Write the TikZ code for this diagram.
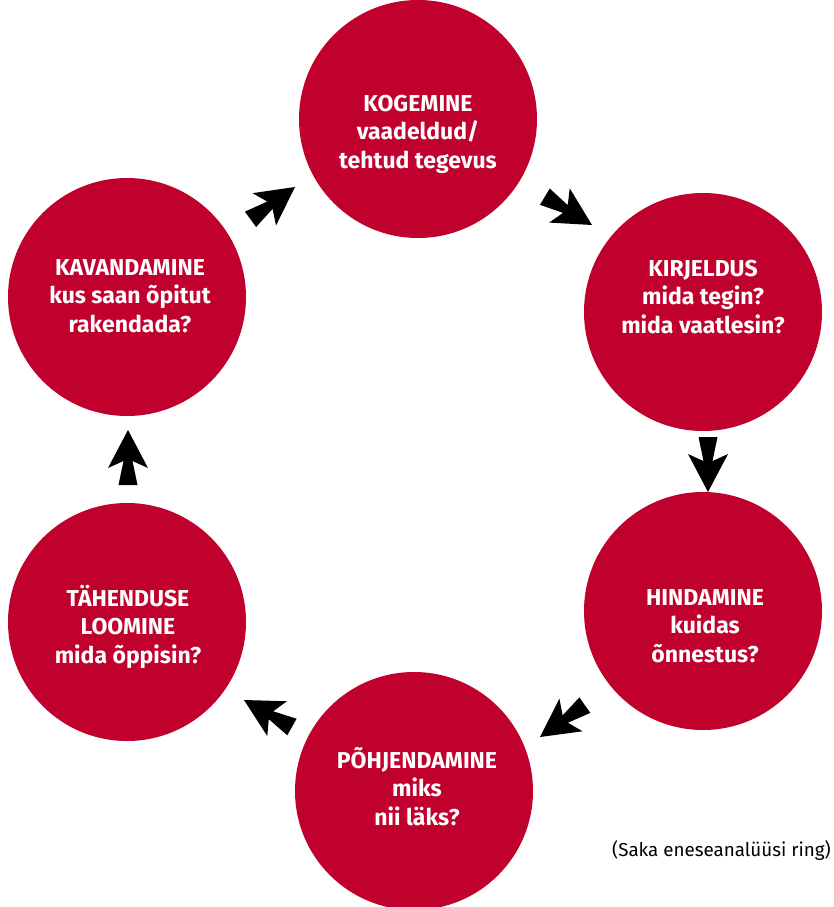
\documentclass[tikz,border=0pt]{standalone}
\usepackage{fontspec}
\setmainfont{Fira Sans}
\definecolor{ringred}{RGB}{192,0,45}
\tikzset{
  circ/.style={circle, fill=ringred, minimum size=238pt, inner sep=0pt},
  lbl/.style={text=white, font=\fontsize{23}{28.5}\selectfont\bfseries, align=center, inner sep=0pt, anchor=base},
  fatarrow/.pic={\fill[black] (0,0) -- (-38,20) -- (-31,4.5) -- (-55,9.5) -- (-55,-9.5) -- (-31,-4.5) -- (-38,-20) -- cycle;}
}
\begin{document}
\begin{tikzpicture}[x=1pt,y=-1pt]
\path[use as bounding box] (0,0) rectangle (833,907);
\node[circ] (kog) at (418,119) {};
\node[circ] (kir) at (703,312) {};
\node[circ] (hin) at (703,611) {};
\node[circ] (poh) at (414,791) {};
\node[circ] (tah) at (127,622) {};
\node[circ] (kav) at (127,297) {};
\node[lbl] (tkog) at (418,168) {KOGEMINE\\vaadeldud/\\tehtud tegevus};
\node[lbl] (tkir) at (703,333) {KIRJELDUS\\mida tegin?\\mida vaatlesin?};
\node[lbl] (thin) at (705,662) {HINDAMINE\\kuidas\\õnnestus?};
\node[lbl] (tpoh) at (417,825) {PÕHJENDAMINE\\miks\\nii läks?};
\node[lbl] (ttah) at (128,663) {TÄHENDUSE\\LOOMINE\\mida õppisin?};
\node[lbl] (tkav) at (130,332) {KAVANDAMINE\\kus saan õpitut\\rakendada?};
\pic[rotate=36] at (295,187) {fatarrow};
\pic[rotate=-31] at (592,225) {fatarrow};
\pic[rotate=-90] at (708,492) {fatarrow};
\pic[rotate=-144.6] at (540,737) {fatarrow};
\pic[rotate=150.6] at (244,700) {fatarrow};
\pic[rotate=90] at (128,430) {fatarrow};
\node[font=\fontsize{18.8}{21}\selectfont, anchor=base east, inner sep=0pt] (cap) at (831,856) {(Saka eneseanalüüsi ring)};
\end{tikzpicture}
\end{document}
